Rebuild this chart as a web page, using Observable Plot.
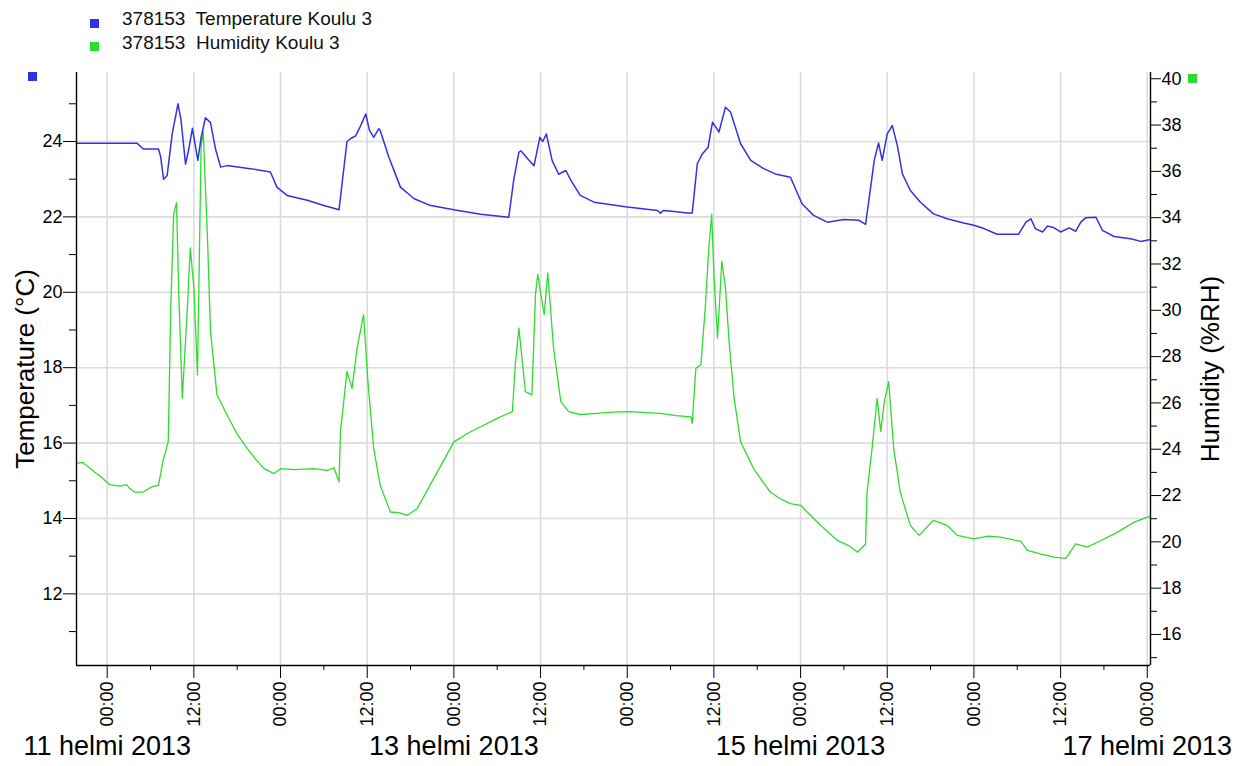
<!DOCTYPE html>
<html>
<head>
<meta charset="utf-8">
<script src="https://cdn.jsdelivr.net/npm/d3@7"></script>
<script src="https://cdn.jsdelivr.net/npm/@observablehq/plot@0.6"></script>
<style>
  body { margin: 0; background: #fff; font-family: "Liberation Sans", Arial, sans-serif; }
  #wrap { position: relative; width: 1245px; height: 766px; overflow: hidden; background: #fff; }
  #legend { position: relative; height: 60px; }
  .lgtext { position: absolute; left: 122px; font-size: 19px; line-height: 22px; white-space: pre; color: #111; }
  .sq { position: absolute; width: 9px; height: 9px; }
  #chart svg { display: block; }
</style>
</head>
<body>
<div id="wrap">
  <div id="legend"></div>
  <div id="chart"></div>
</div>
<script>
// ---------- data (hours since 11 helmi 2013 00:00) ----------
const tempHours = [-4.25, 4.15, 5.0, 7.1, 7.4, 7.8, 8.3, 9.0, 9.8, 10.2, 10.85, 11.3, 11.8, 12.55, 13.0, 13.6, 14.3, 15.0, 15.7, 16.6, 19.8, 22.6, 23.5, 24.9, 27.7, 30.0, 32.1, 33.2, 33.9, 34.4, 35.0, 35.8, 36.3, 36.9, 37.6, 37.8, 39.0, 40.6, 42.5, 44.8, 48.0, 51.7, 55.6, 56.3, 57.0, 57.3, 58.4, 59.1, 59.9, 60.3, 60.8, 61.6, 62.5, 63.5, 64.2, 65.5, 67.4, 72.0, 76.2, 76.6, 77.0, 78.5, 80.3, 81.0, 81.7, 82.4, 83.2, 83.8, 84.2, 84.7, 85.6, 86.3, 87.7, 89.1, 90.9, 92.5, 94.6, 96.2, 97.8, 99.7, 102.0, 104.1, 105.0, 105.5, 106.2, 106.8, 107.3, 108.0, 108.7, 109.4, 110.1, 111.2, 112.6, 114.4, 116.3, 118.6, 120.0, 121.4, 123.2, 126.2, 127.2, 127.9, 128.5, 129.5, 130.2, 131.0, 132.0, 133.2, 134.1, 134.8, 135.5, 136.9, 137.8, 139.4, 141.7, 143.1, 144.45];
const tempValues = [23.95, 23.95, 23.8, 23.8, 23.6, 23.0, 23.1, 24.2, 25.0, 24.6, 23.4, 23.8, 24.35, 23.5, 24.1, 24.63, 24.5, 23.8, 23.32, 23.36, 23.28, 23.19, 22.79, 22.57, 22.44, 22.3, 22.19, 24.0, 24.1, 24.15, 24.38, 24.73, 24.3, 24.11, 24.34, 24.29, 23.58, 22.79, 22.48, 22.3, 22.19, 22.07, 21.99, 23.0, 23.72, 23.75, 23.5, 23.36, 24.11, 24.0, 24.2, 23.5, 23.13, 23.23, 22.97, 22.57, 22.39, 22.26, 22.17, 22.1, 22.17, 22.14, 22.1, 22.1, 23.41, 23.67, 23.85, 24.51, 24.4, 24.25, 24.91, 24.78, 23.94, 23.5, 23.28, 23.14, 23.05, 22.35, 22.04, 21.86, 21.93, 21.91, 21.8, 22.5, 23.5, 23.96, 23.5, 24.2, 24.42, 23.89, 23.14, 22.7, 22.39, 22.08, 21.95, 21.84, 21.78, 21.69, 21.54, 21.54, 21.86, 21.95, 21.69, 21.6, 21.76, 21.72, 21.6, 21.71, 21.62, 21.86, 21.98, 21.99, 21.64, 21.48, 21.42, 21.35, 21.4];

const humHours = [-4.25, -3.34, -2.4, -1.5, -1.02, 0.36, 1.75, 2.68, 3.13, 3.8, 4.98, 6.13, 7.1, 7.75, 8.45, 8.8, 9.2, 9.6, 9.9, 10.4, 11.1, 11.5, 12.0, 12.5, 13.0, 13.3, 13.9, 14.3, 15.2, 16.6, 18.0, 19.4, 20.6, 21.7, 23.1, 24.0, 26.0, 28.6, 30.5, 31.4, 32.1, 32.3, 33.2, 33.9, 34.6, 35.5, 36.1, 36.9, 37.8, 39.2, 40.5, 41.5, 42.9, 45.2, 48.0, 50.0, 51.7, 54.0, 55.2, 56.1, 56.5, 57.0, 57.9, 58.8, 59.3, 59.6, 60.5, 61.0, 61.8, 62.8, 63.9, 65.5, 67.8, 70.0, 72.5, 74.6, 76.6, 78.8, 80.8, 81.0, 81.5, 82.2, 82.8, 83.3, 83.7, 84.0, 84.5, 85.1, 85.6, 86.1, 86.8, 87.7, 89.5, 91.8, 93.2, 94.6, 96.0, 96.9, 98.8, 101.1, 102.6, 103.9, 105.0, 105.2, 105.9, 106.6, 107.1, 107.6, 108.2, 108.9, 109.8, 111.2, 112.4, 114.4, 116.3, 117.7, 120.0, 122.0, 123.7, 126.5, 127.4, 129.2, 131.1, 132.7, 134.1, 135.7, 137.6, 139.9, 142.2, 144.0, 144.45];
const humValues = [23.4, 23.42, 23.19, 22.95, 22.85, 22.47, 22.41, 22.47, 22.3, 22.15, 22.15, 22.37, 22.44, 23.53, 24.32, 30.1, 34.15, 34.65, 30.82, 26.2, 30.1, 32.7, 30.97, 27.21, 37.04, 37.7, 32.99, 29.09, 26.35, 25.48, 24.65, 24.03, 23.55, 23.16, 22.95, 23.16, 23.12, 23.16, 23.09, 23.2, 22.59, 24.76, 27.36, 26.63, 28.37, 29.81, 26.92, 24.03, 22.44, 21.29, 21.25, 21.14, 21.43, 22.73, 24.32, 24.7, 24.97, 25.33, 25.5, 25.62, 27.65, 29.23, 26.49, 26.35, 30.68, 31.55, 29.81, 31.62, 28.37, 26.06, 25.62, 25.5, 25.55, 25.6, 25.62, 25.58, 25.55, 25.45, 25.4, 25.12, 27.5, 27.65, 30.1, 32.7, 34.15, 31.55, 28.8, 32.12, 30.97, 28.66, 26.2, 24.32, 23.16, 22.15, 21.86, 21.65, 21.58, 21.29, 20.71, 20.06, 19.85, 19.55, 19.91, 22.15, 24.03, 26.2, 24.76, 26.06, 26.92, 24.03, 22.15, 20.71, 20.28, 20.93, 20.71, 20.28, 20.13, 20.25, 20.2, 20.02, 19.63, 19.48, 19.34, 19.29, 19.91, 19.77, 20.06, 20.42, 20.85, 21.07, 21.1];

// ---------- axes / ticks ----------
const tempTicks = [12, 14, 16, 18, 20, 22, 24];
const tempMinorTicks = [11, 13, 15, 17, 19, 21, 23, 25];
const humTicks = [16, 18, 20, 22, 24, 26, 28, 30, 32, 34, 36, 38, 40];
const humMinorTicks = [15, 17, 19, 21, 23, 25, 27, 29, 31, 33, 35, 37, 39];
const majorTickHours = [0, 12, 24, 36, 48, 60, 72, 84, 96, 108, 120, 132, 144];
const minorTickHours = [6, 18, 30, 42, 54, 66, 78, 90, 102, 114, 126, 138];
const dateLabelHours = [0, 48, 96, 144];
const dateLabelTexts = ["11 helmi 2013", "13 helmi 2013", "15 helmi 2013", "17 helmi 2013"];

const seriesNames = ["378153  Temperature Koulu 3", "378153  Humidity Koulu 3"];
const seriesColors = ["#3232e4", "#2ddc2d"];
const tempLabel = "Temperature (°C)";
const humLabel = "Humidity (%RH)";

// ---------- helpers ----------
const t0 = Date.UTC(2013, 1, 11);
const toDate = h => new Date(t0 + h * 3600000);
const xDomain = [toDate(-4.25), toDate(144.45)];
const tDomain = [10.1, 25.83];
const hDomain = [14.66, 40.27];
const h2t = v => tDomain[0] + (v - hDomain[0]) * (tDomain[1] - tDomain[0]) / (hDomain[1] - hDomain[0]);
const t2h = v => hDomain[0] + (v - tDomain[0]) * (hDomain[1] - hDomain[0]) / (tDomain[1] - tDomain[0]);

const tempData = tempHours.map((h, i) => ({time: toDate(h), value: tempValues[i]}));
const humData = humHours.map((h, i) => ({time: toDate(h), value: humValues[i]}));

// ---------- legend ----------
const legend = document.getElementById("legend");
seriesNames.forEach((name, i) => {
  const sq = document.createElement("div");
  sq.className = "sq";
  sq.style.left = "90px";
  sq.style.top = (i === 0 ? 19 : 42) + "px";
  sq.style.background = seriesColors[i];
  legend.appendChild(sq);
  const t = document.createElement("div");
  t.className = "lgtext";
  t.style.top = (i === 0 ? 8 : 32) + "px";
  t.textContent = name;
  legend.appendChild(t);
});
const wrap = document.getElementById("wrap");
[[28, 72, 0], [1188, 74, 1]].forEach(([x, y, i]) => {
  const sq = document.createElement("div");
  sq.className = "sq";
  sq.style.left = x + "px";
  sq.style.top = y + "px";
  sq.style.background = seriesColors[i];
  wrap.appendChild(sq);
});

// ---------- chart ----------
const grid = "#dcdcdc";
const chart = Plot.plot({
  width: 1245,
  height: 706,
  marginLeft: 76,
  marginRight: 95,
  marginTop: 12,
  marginBottom: 101,
  style: {fontFamily: '"Liberation Sans", Arial, sans-serif', fontSize: "18px", color: "#000", background: "#fff"},
  x: {type: "utc", domain: xDomain, label: null},
  y: {domain: tDomain, label: null},
  marks: [
    Plot.ruleX(majorTickHours.map(toDate), {stroke: grid, strokeWidth: 1.6}),
    Plot.ruleY(tempTicks, {stroke: grid, strokeWidth: 1.6}),
    Plot.line(humData, {x: "time", y: d => h2t(d.value), stroke: seriesColors[1], strokeWidth: 1.3}),
    Plot.line(tempData, {x: "time", y: "value", stroke: seriesColors[0], strokeWidth: 1.5}),
    Plot.ruleX(xDomain, {stroke: "#000", strokeWidth: 1.4}),
    Plot.ruleY([tDomain[0]], {stroke: "#000", strokeWidth: 1.4}),
    Plot.axisY(tempTicks, {anchor: "left", tickSize: 13, tickPadding: 1, fontSize: 18, label: null}),
    Plot.axisY(tempMinorTicks, {anchor: "left", tickSize: 7, tickFormat: () => "", label: null}),
    Plot.axisY(humTicks.map(h2t), {anchor: "right", tickSize: 10, tickPadding: 1, fontSize: 18, tickFormat: v => String(Math.round(t2h(v))), label: null}),
    Plot.axisY(humMinorTicks.map(h2t), {anchor: "right", tickSize: 6, tickFormat: () => "", label: null}),
    Plot.axisX(majorTickHours.map(toDate), {anchor: "bottom", tickSize: 13, tickPadding: 3, tickRotate: -90, fontSize: 18, tickFormat: d3.utcFormat("%H:%M"), label: null}),
    Plot.axisX(minorTickHours.map(toDate), {anchor: "bottom", tickSize: 5, tickFormat: () => "", label: null}),
    Plot.text(dateLabelTexts, {x: (d, i) => toDate(dateLabelHours[i]), text: d => d, frameAnchor: "bottom", dy: 89, fontSize: 27, fill: "#000", textAnchor: "middle"}),
    Plot.text([tempLabel], {frameAnchor: "left", dx: -51, rotate: -90, fontSize: 26, fill: "#000", textAnchor: "middle"}),
    Plot.text([humLabel], {frameAnchor: "right", dx: 60, rotate: -90, fontSize: 26, fill: "#000", textAnchor: "middle"})
  ]
});
document.getElementById("chart").appendChild(chart);
</script>
</body>
</html>
